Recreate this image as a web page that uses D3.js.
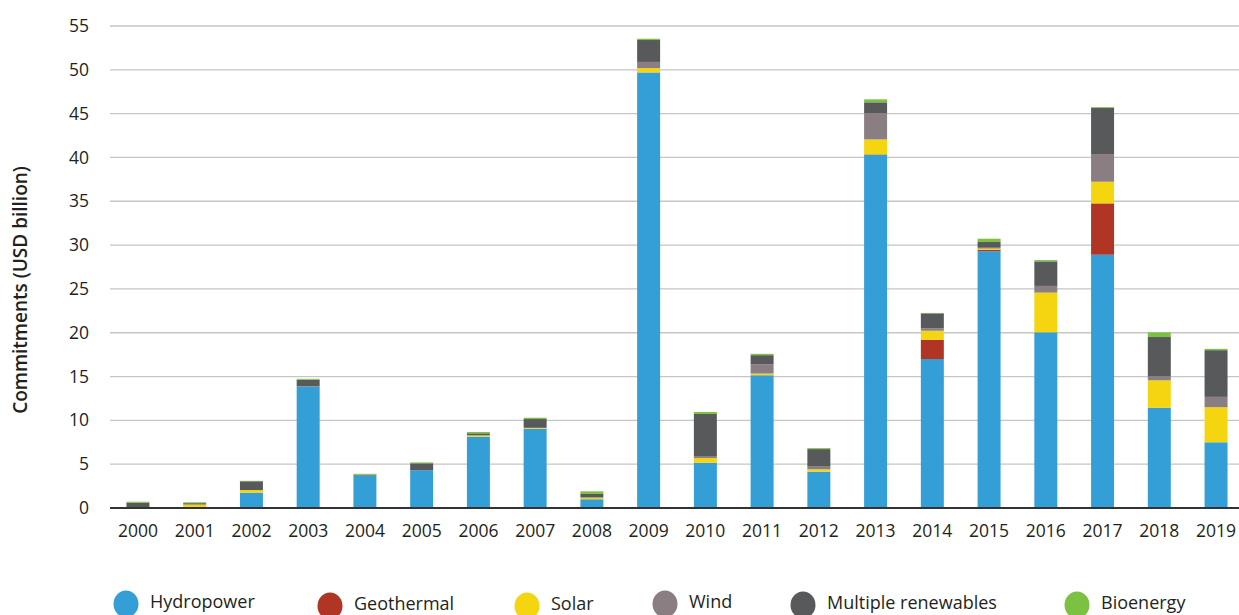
<!DOCTYPE html>
<html>
<head>
<meta charset="utf-8">
<script src="https://cdn.jsdelivr.net/npm/d3@7"></script>
<style>
  body { margin: 0; background: #fff; }
  text { font-family: "Open Sans", Lato, sans-serif; fill: #231f20; }
</style>
</head>
<body>
<div id="chart"></div>
<script>
const svgWidth = 1239;
const svgHeight = 615;

const margin = { top: 26, right: 0, bottom: 107, left: 110 };
const width = svgWidth - margin.left - margin.right;
const height = svgHeight - margin.top - margin.bottom;

// data (USD billion)
const years = ["2000","2001","2002","2003","2004","2005","2006","2007","2008","2009",
               "2010","2011","2012","2013","2014","2015","2016","2017","2018","2019"];
const hydropower = [0.1, 0.05, 1.75, 13.85, 3.7, 4.3, 8.14, 9.05, 1.0, 49.7,
                    5.17, 15.15, 4.15, 40.3, 17.0, 29.3, 20.05, 28.9, 11.45, 7.5];
const geothermal = [0, 0, 0, 0, 0, 0, 0, 0, 0, 0,
                    0, 0, 0, 0.05, 2.2, 0.15, 0, 5.86, 0, 0];
const solar      = [0, 0.35, 0.3, 0, 0, 0, 0.15, 0.1, 0.2, 0.5,
                    0.53, 0.19, 0.27, 1.71, 1.03, 0.15, 4.53, 2.47, 3.12, 4.0];
const wind       = [0, 0, 0, 0.03, 0, 0, 0, 0, 0, 0.7,
                    0.23, 1.07, 0.3, 2.97, 0.27, 0.1, 0.76, 3.16, 0.49, 1.18];
const multiple   = [0.5, 0.15, 1.0, 0.76, 0.1, 0.8, 0.23, 1.0, 0.4, 2.5,
                    4.8, 1.03, 2.0, 1.26, 1.71, 0.65, 2.8, 5.25, 4.45, 5.33];
const bioenergy  = [0.12, 0.1, 0.05, 0.1, 0.1, 0.1, 0.15, 0.15, 0.3, 0.15,
                    0.23, 0.15, 0.11, 0.34, 0.05, 0.38, 0.15, 0.1, 0.53, 0.15];

const keys = ["Hydropower", "Geothermal", "Solar", "Wind", "Multiple renewables", "Bioenergy"];
const colors = ["#349ed7", "#b03524", "#f5d50f", "#8a7e82", "#58595b", "#7dc142"];
const yTicks = [0, 5, 10, 15, 20, 25, 30, 35, 40, 45, 50, 55];

const series = [hydropower, geothermal, solar, wind, multiple, bioenergy];
const table = years.map((y, i) => {
  const row = { year: y };
  keys.forEach((k, j) => row[k] = series[j][i]);
  return row;
});

const svg = d3.select("#chart")
  .append("svg")
  .attr("width", svgWidth)
  .attr("height", svgHeight);

const chartGroup = svg.append("g")
  .attr("transform", `translate(${margin.left}, ${margin.top})`);

// bands run a little past the right edge, as in the source
const x = d3.scaleBand()
  .domain(years)
  .range([0, 1134])
  .paddingInner(0.595)
  .paddingOuter(0.29);

const y = d3.scaleLinear()
  .domain([0, 55])
  .range([height, 0]);

const color = d3.scaleOrdinal().domain(keys).range(colors);

// gridlines
chartGroup.append("g")
  .selectAll("line")
  .data(yTicks.filter(d => d > 0))
  .enter()
  .append("line")
  .attr("x1", 0)
  .attr("x2", width)
  .attr("y1", d => y(d))
  .attr("y2", d => y(d))
  .attr("stroke", "#c6c6c6")
  .attr("stroke-width", 1.3);

// y axis labels
const leftAxis = d3.axisLeft(y).tickValues(yTicks).tickSize(0).tickPadding(21);
chartGroup.append("g")
  .call(leftAxis)
  .call(g => g.select(".domain").remove())
  .selectAll("text")
  .attr("font-size", "17.5px")
  .style("font-family", "'Open Sans', sans-serif")
  .attr("fill", "#231f20");

// stacked bars
const stacked = d3.stack().keys(keys)(table);

chartGroup.append("g")
  .selectAll("g")
  .data(stacked)
  .enter()
  .append("g")
  .attr("fill", d => color(d.key))
  .selectAll("rect")
  .data(d => d)
  .enter()
  .append("rect")
  .attr("x", d => x(d.data.year))
  .attr("width", x.bandwidth())
  .attr("y", d => y(d[1]))
  .attr("height", d => Math.max(0, y(d[0]) - y(d[1])));

// x axis
const bottomAxis = d3.axisBottom(x).tickSize(0).tickPadding(17);
chartGroup.append("g")
  .attr("transform", `translate(0, ${height})`)
  .call(bottomAxis)
  .call(g => g.select(".domain").attr("d", `M0,0H${width}`).attr("stroke", "#333").attr("stroke-width", 2.2))
  .selectAll("text")
  .attr("font-size", "17.5px")
  .style("font-family", "'Open Sans', sans-serif")
  .attr("fill", "#231f20");

// y axis title
svg.append("text")
  .attr("transform", `translate(27, 290) rotate(-90)`)
  .attr("text-anchor", "middle")
  .attr("font-size", "19px")
  .attr("font-weight", 600)
  .text("Commitments (USD billion)");

// legend
const legendX = [126, 330, 527, 665, 803, 1077];
const legendDy = [0, 2, 2, 0, 1, 1];
const legend = svg.append("g")
  .selectAll("g")
  .data(keys)
  .enter()
  .append("g")
  .attr("transform", (d, i) => `translate(${legendX[i]}, ${604 + legendDy[i]})`);

legend.append("ellipse")
  .attr("rx", 12.5)
  .attr("ry", 13.5)
  .attr("fill", d => color(d));

legend.append("text")
  .attr("x", 24)
  .attr("y", 4)
  .attr("font-size", "18px")
  .text(d => d);
</script>
</body>
</html>
